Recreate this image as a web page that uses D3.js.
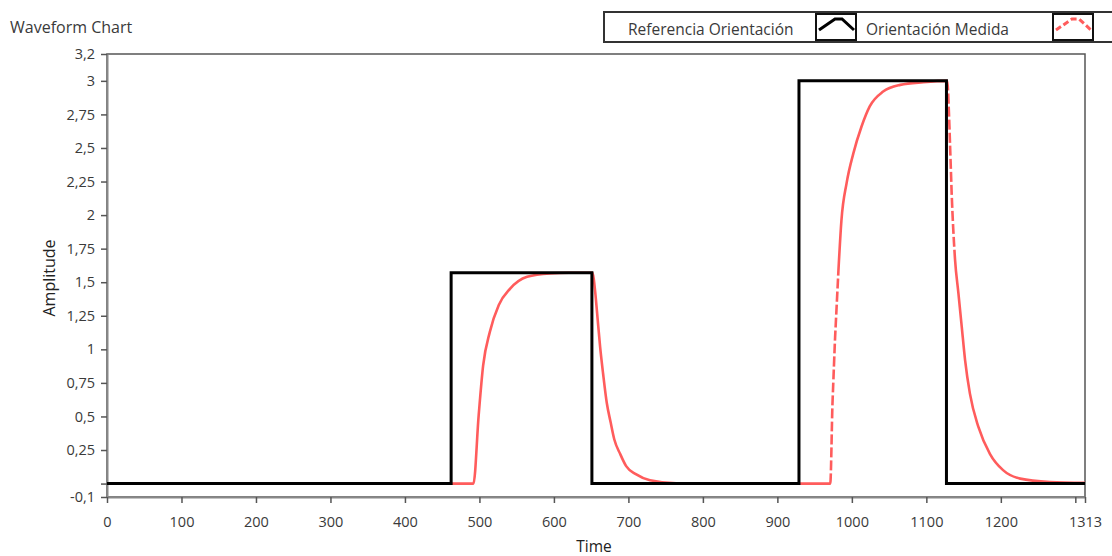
<!DOCTYPE html>
<html>
<head>
<meta charset="utf-8">
<script src="https://cdn.jsdelivr.net/npm/d3@7"></script>
<style>
  body { margin: 0; background: #fff; }
  svg { display: block; font-family: "Open Sans", sans-serif; }
</style>
</head>
<body>
<div id="chart"></div>
<script>
// reference setpoint (step signal)
var refTime  = [0, 462, 462, 651, 651, 929, 929, 1127, 1127, 1313];
var refValue = [0, 0, 1.5708, 1.5708, 0, 0, 3, 3, 0, 0];

var measTime  = [0, 492, 499, 505, 514, 526, 541, 564, 595, 620, 652, 655, 658, 662, 666, 671, 676, 681, 689, 697, 710, 729, 769,
                 971, 974, 977.5, 982, 986, 993, 1002, 1013, 1024, 1042, 1065, 1096, 1128,
                 1131, 1134, 1138.5, 1143, 1147.5, 1152, 1158.5, 1170, 1185.5, 1203, 1226, 1266, 1313];
var measValue = [0, 0, 0.51, 0.88, 1.13, 1.33, 1.45, 1.54, 1.566, 1.5708, 1.5708, 1.45, 1.27, 1.02, 0.82, 0.60, 0.46, 0.33, 0.22, 0.13, 0.07, 0.025, 0,
                 0, 0.60, 1.09, 1.59, 1.96, 2.24, 2.46, 2.66, 2.81, 2.92, 2.97, 2.99, 3.0,
                 2.66, 2.16, 1.67, 1.42, 1.17, 0.92, 0.67, 0.42, 0.22, 0.10, 0.037, 0.012, 0.005];

var xTicks = [0, 100, 200, 300, 400, 500, 600, 700, 800, 900, 1000, 1100, 1200, 1300, 1313];
var yTicks = [-0.1, 0, 0.25, 0.5, 0.75, 1, 1.25, 1.5, 1.75, 2, 2.25, 2.5, 2.75, 3, 3.2];

var seriesNames = ["Referencia Orientación", "Orientación Medida"];

var W = 1112, H = 556;
var plot = {left: 107, right: 1085, top: 54, bottom: 497};

var svg = d3.select("#chart").append("svg")
    .attr("width", W)
    .attr("height", H);

var x = d3.scaleLinear().domain([0, 1313]).range([plot.left, plot.right]);
var y = d3.scaleLinear().domain([-0.1, 3.2]).range([plot.bottom, plot.top]);

var refData = refTime.map(function(t, i) { return {t: t, v: refValue[i]}; });
var measData = measTime.map(function(t, i) { return {t: t, v: measValue[i]}; });

// title
svg.append("text")
    .attr("x", 10)
    .attr("y", 33)
    .attr("font-size", "16px")
    .attr("fill", "#3a3a3a")
    .text("Waveform Chart");

// plot frame
svg.append("rect")
    .attr("x", plot.left)
    .attr("y", plot.top)
    .attr("width", plot.right - plot.left)
    .attr("height", plot.bottom - plot.top)
    .attr("fill", "#fff")
    .attr("stroke", "#555")
    .attr("stroke-width", 1.5);

var comma = function(d) { return d === 0 ? "" : String(d).replace(".", ","); };

// y axis
var yAxis = svg.append("g")
    .attr("transform", "translate(" + plot.left + ",0)")
    .call(d3.axisLeft(y).tickValues(yTicks).tickFormat(comma).tickSize(6).tickSizeOuter(0).tickPadding(6));

// x axis
var xAxis = svg.append("g")
    .attr("transform", "translate(0," + plot.bottom + ")")
    .call(d3.axisBottom(x).tickValues(xTicks)
        .tickFormat(function(d) { return d === 1300 ? "" : d; })
        .tickSize(6).tickSizeOuter(0).tickPadding(14));

[yAxis, xAxis].forEach(function(a) {
    a.select(".domain").attr("stroke", "#888").attr("stroke-width", 2);
    a.selectAll(".tick line").attr("stroke", "#555").attr("stroke-width", 1.5);
    a.selectAll(".tick text").attr("fill", "#3a3a3a").attr("font-size", "14.5px")
        .attr("font-family", "\"Open Sans\", sans-serif");
});

// axis names
svg.append("text")
    .attr("x", 594)
    .attr("y", 552)
    .attr("text-anchor", "middle")
    .attr("font-size", "15.5px")
    .attr("fill", "#222")
    .text("Time");

svg.append("text")
    .attr("transform", "translate(55,278) rotate(-90)")
    .attr("text-anchor", "middle")
    .attr("font-size", "16px")
    .attr("fill", "#222")
    .text("Amplitude");

// measured line: smooth, with gaps where consecutive samples jump steeply
var red = "#ff5c5c";
var line = d3.line()
    .curve(d3.curveMonotoneX)
    .x(function(d) { return x(d.t); })
    .y(function(d) { return y(d.v); });

var steepRuns = [], run = null;
d3.pairs(measData).forEach(function(p) {
    var dx = Math.abs(x(p[1].t) - x(p[0].t)), dy = Math.abs(y(p[1].v) - y(p[0].v));
    if (dy > 18 * dx) {
        if (!run) { run = [p[0]]; steepRuns.push(run); }
        run.push(p[1]);
    } else {
        run = null;
    }
});

var mask = svg.append("defs").append("mask")
    .attr("id", "gaps")
    .attr("maskUnits", "userSpaceOnUse")
    .attr("x", 0).attr("y", 0).attr("width", W).attr("height", H);
mask.append("rect")
    .attr("width", W).attr("height", H)
    .attr("fill", "#fff");
mask.selectAll("path")
    .data(steepRuns)
    .enter()
    .append("path")
    .attr("d", line)
    .attr("fill", "none")
    .attr("stroke", "#000")
    .attr("stroke-width", 8)
    .attr("stroke-dasharray", "3,10")
    .attr("stroke-dashoffset", -10);

svg.append("path")
    .datum(measData)
    .attr("d", line)
    .attr("fill", "none")
    .attr("stroke", red)
    .attr("stroke-width", 2.6)
    .attr("mask", "url(#gaps)");

// reference line
svg.append("path")
    .datum(refData)
    .attr("d", d3.line().x(function(d) { return x(d.t); }).y(function(d) { return y(d.v); }))
    .attr("fill", "none")
    .attr("stroke", "#000")
    .attr("stroke-width", 3)
    .attr("stroke-linejoin", "miter");

// legend
var lg = svg.append("g");
lg.append("rect")
    .attr("x", 604).attr("y", 12)
    .attr("width", 520).attr("height", 30)
    .attr("fill", "#fff")
    .attr("stroke", "#333")
    .attr("stroke-width", 2);

var cells = [
    {text: seriesNames[0], tx: 628, sx: 816, color: "#000", dash: null},
    {text: seriesNames[1], tx: 866, sx: 1053, color: red, dash: "6,3"}
];

cells.forEach(function(c) {
    lg.append("text")
        .attr("x", c.tx)
        .attr("y", 35)
        .attr("font-size", "15.5px")
        .attr("fill", "#3a3a3a")
        .text(c.text);
    lg.append("rect")
        .attr("x", c.sx).attr("y", 14)
        .attr("width", 40).attr("height", 26)
        .attr("fill", "#fff")
        .attr("stroke", "#111")
        .attr("stroke-width", 2);
    lg.append("path")
        .attr("d", "M" + (c.sx + 3) + ",30 L" + (c.sx + 19) + ",19 L" + (c.sx + 26) + ",19 L" + (c.sx + 38) + ",30")
        .attr("fill", "none")
        .attr("stroke", c.color)
        .attr("stroke-width", 3)
        .attr("stroke-dasharray", c.dash);
});
</script>
</body>
</html>
